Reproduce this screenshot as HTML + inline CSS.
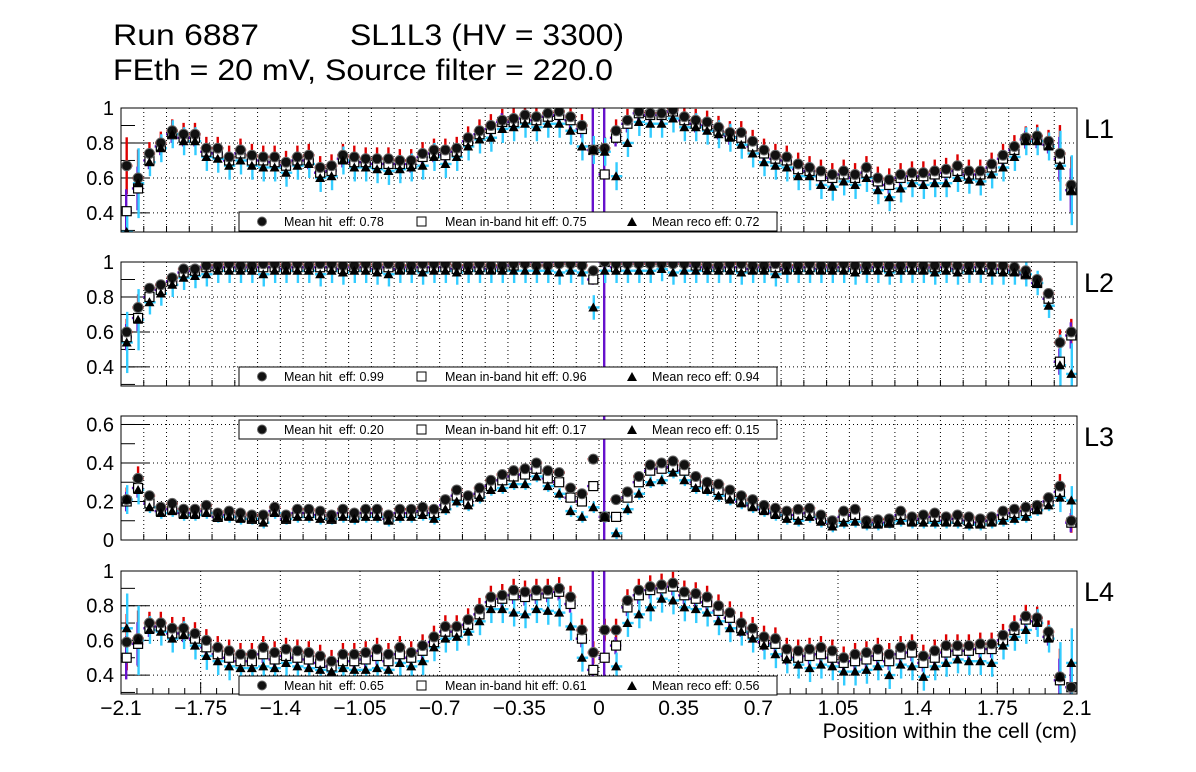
<!DOCTYPE html>
<html><head><meta charset="utf-8"><style>
html,body{margin:0;padding:0;background:#fff;width:1196px;height:772px;overflow:hidden;}
svg{display:block;font-family:"Liberation Sans",Arial,sans-serif;}
</style></head><body>
<svg id="chart" width="1196" height="772" viewBox="0 0 1196 772" xmlns="http://www.w3.org/2000/svg">
<rect x="0" y="0" width="1196" height="772" fill="#fff"/>
<text x="113" y="45" font-size="30" textLength="146" lengthAdjust="spacingAndGlyphs">Run 6887</text>
<text x="350" y="45" font-size="30" textLength="274" lengthAdjust="spacingAndGlyphs">SL1L3 (HV = 3300)</text>
<text x="113" y="80" font-size="30" textLength="500" lengthAdjust="spacingAndGlyphs">FEth = 20 mV, Source filter = 220.0</text>
<text x="1077" y="738" font-size="21" text-anchor="end">Position within the cell (cm)</text>
</svg>
<script>
const hit1=[0.67,0.60,0.74,0.80,0.87,0.85,0.85,0.77,0.77,0.72,0.76,0.73,0.72,0.72,0.69,0.72,0.73,0.66,0.67,0.73,0.72,0.71,0.71,0.71,0.70,0.70,0.74,0.76,0.76,0.77,0.83,0.87,0.90,0.93,0.94,0.96,0.95,0.97,0.98,0.95,0.90,0.76,0.77,0.87,0.93,0.98,0.97,0.97,0.99,0.95,0.93,0.92,0.89,0.86,0.86,0.81,0.76,0.73,0.72,0.68,0.66,0.64,0.62,0.64,0.62,0.66,0.60,0.59,0.62,0.63,0.63,0.64,0.65,0.67,0.64,0.64,0.68,0.73,0.78,0.83,0.84,0.81,0.74,0.56];
const inb1=[0.41,0.54,0.70,0.78,0.85,0.83,0.83,0.75,0.74,0.70,0.74,0.70,0.70,0.69,0.67,0.70,0.70,0.63,0.64,0.71,0.69,0.69,0.68,0.68,0.68,0.68,0.72,0.74,0.73,0.75,0.81,0.85,0.88,0.92,0.92,0.94,0.93,0.95,0.96,0.93,0.88,0.76,0.62,0.83,0.91,0.97,0.96,0.96,0.98,0.93,0.91,0.90,0.87,0.84,0.83,0.78,0.74,0.71,0.70,0.65,0.64,0.61,0.60,0.62,0.60,0.63,0.58,0.56,0.60,0.61,0.61,0.62,0.63,0.64,0.62,0.62,0.66,0.71,0.76,0.82,0.82,0.79,0.71,0.53];
const reco1=[0.20,0.57,0.69,0.77,0.85,0.81,0.81,0.72,0.71,0.67,0.70,0.67,0.66,0.66,0.63,0.67,0.68,0.60,0.61,0.70,0.66,0.66,0.65,0.64,0.65,0.66,0.67,0.72,0.68,0.72,0.78,0.82,0.83,0.88,0.89,0.91,0.89,0.91,0.91,0.87,0.78,0.76,0.75,0.61,0.80,0.92,0.91,0.91,0.94,0.89,0.89,0.87,0.85,0.83,0.79,0.74,0.69,0.67,0.66,0.61,0.61,0.56,0.55,0.58,0.56,0.60,0.53,0.49,0.54,0.57,0.56,0.57,0.57,0.60,0.59,0.58,0.62,0.66,0.72,0.81,0.81,0.78,0.67,0.53];
const hit2=[0.60,0.74,0.85,0.87,0.91,0.96,0.96,0.98,0.98,0.99,0.98,0.98,0.99,0.99,0.98,0.99,0.98,0.99,0.99,0.98,0.98,0.99,0.98,0.99,0.98,0.98,0.99,0.99,0.99,0.98,0.98,0.99,0.98,0.98,0.99,0.99,0.98,0.98,0.99,0.99,0.98,0.95,1.00,0.99,0.99,0.99,0.99,0.99,0.99,0.99,0.99,0.98,0.98,0.99,0.99,0.98,0.98,0.99,0.98,0.98,0.99,0.98,0.98,0.99,0.98,0.98,0.99,0.98,0.98,0.99,0.98,0.98,0.99,0.98,0.98,0.99,0.98,0.98,0.97,0.95,0.90,0.82,0.54,0.60];
const inb2=[0.57,0.68,0.80,0.84,0.89,0.94,0.95,0.97,0.97,0.97,0.97,0.97,0.97,0.97,0.96,0.97,0.97,0.97,0.97,0.96,0.97,0.97,0.96,0.97,0.96,0.97,0.97,0.97,0.97,0.96,0.97,0.97,0.96,0.97,0.98,1.0,1.0,1.0,1.0,1.0,1.0,0.90,1.00,0.97,1.0,1.0,1.0,1.0,1.0,1.0,0.98,0.97,0.97,0.97,0.97,0.96,0.97,0.97,0.96,0.97,0.97,0.96,0.97,0.97,0.96,0.97,0.97,0.97,0.97,0.97,0.96,0.97,0.97,0.96,0.97,0.97,0.96,0.96,0.95,0.93,0.88,0.79,0.43,0.58];
const reco2=[0.54,0.67,0.77,0.82,0.87,0.91,0.92,0.93,0.95,0.95,0.95,0.95,0.93,0.95,0.95,0.95,0.95,0.93,0.95,0.94,0.95,0.95,0.94,0.93,0.95,0.95,0.94,0.95,0.95,0.94,0.95,0.95,0.95,0.95,0.95,0.95,0.95,0.95,0.94,0.95,0.94,0.74,0.95,0.95,0.95,0.95,0.95,0.96,0.94,0.95,0.95,0.95,0.95,0.95,0.94,0.95,0.95,0.93,0.95,0.95,0.95,0.95,0.95,0.95,0.94,0.95,0.95,0.94,0.95,0.95,0.95,0.94,0.95,0.94,0.95,0.95,0.94,0.94,0.94,0.93,0.88,0.75,0.41,0.36];
const hit3=[0.21,0.32,0.23,0.17,0.19,0.16,0.16,0.18,0.14,0.15,0.14,0.13,0.13,0.17,0.13,0.16,0.16,0.15,0.13,0.16,0.14,0.16,0.16,0.13,0.16,0.16,0.17,0.16,0.21,0.26,0.23,0.27,0.31,0.34,0.36,0.37,0.40,0.36,0.35,0.27,0.24,0.42,0.12,0.21,0.25,0.33,0.39,0.40,0.41,0.39,0.33,0.30,0.29,0.26,0.23,0.21,0.18,0.165,0.15,0.16,0.165,0.13,0.10,0.15,0.16,0.10,0.105,0.11,0.15,0.12,0.13,0.14,0.12,0.13,0.12,0.11,0.12,0.15,0.16,0.17,0.18,0.22,0.28,0.10];
const inb3=[0.20,0.27,0.19,0.15,0.16,0.14,0.14,0.15,0.12,0.13,0.12,0.11,0.11,0.15,0.11,0.14,0.14,0.13,0.11,0.14,0.12,0.14,0.14,0.11,0.14,0.14,0.15,0.14,0.18,0.23,0.20,0.24,0.28,0.31,0.33,0.34,0.37,0.32,0.30,0.22,0.20,0.28,0.12,0.12,0.22,0.30,0.36,0.37,0.38,0.36,0.30,0.27,0.26,0.23,0.20,0.18,0.16,0.14,0.13,0.13,0.14,0.11,0.09,0.12,0.13,0.09,0.09,0.09,0.13,0.10,0.11,0.12,0.10,0.11,0.10,0.09,0.10,0.13,0.14,0.15,0.16,0.20,0.25,0.09];
const reco3=[0.21,0.26,0.17,0.14,0.15,0.13,0.13,0.14,0.12,0.12,0.11,0.11,0.09,0.14,0.11,0.12,0.12,0.11,0.11,0.12,0.11,0.12,0.12,0.10,0.12,0.12,0.13,0.11,0.16,0.20,0.18,0.22,0.26,0.27,0.29,0.29,0.33,0.28,0.24,0.15,0.12,0.17,0.12,0.035,0.16,0.24,0.30,0.31,0.35,0.31,0.27,0.26,0.23,0.21,0.19,0.17,0.15,0.13,0.11,0.10,0.12,0.095,0.07,0.09,0.095,0.08,0.08,0.09,0.10,0.09,0.09,0.09,0.09,0.09,0.08,0.08,0.09,0.10,0.11,0.12,0.155,0.18,0.22,0.205];
const hit4=[0.59,0.61,0.70,0.70,0.67,0.67,0.64,0.60,0.56,0.54,0.52,0.52,0.56,0.53,0.55,0.54,0.53,0.51,0.48,0.52,0.52,0.53,0.55,0.52,0.56,0.53,0.57,0.62,0.68,0.68,0.72,0.78,0.85,0.86,0.89,0.88,0.89,0.89,0.90,0.85,0.66,0.53,0.66,0.66,0.83,0.89,0.91,0.92,0.93,0.88,0.87,0.85,0.80,0.76,0.70,0.67,0.62,0.61,0.55,0.54,0.55,0.56,0.54,0.50,0.52,0.53,0.55,0.52,0.56,0.57,0.51,0.54,0.57,0.57,0.57,0.58,0.58,0.63,0.68,0.74,0.73,0.65,0.39,0.33];
const inb4=[0.50,0.58,0.67,0.68,0.64,0.64,0.61,0.56,0.52,0.50,0.48,0.48,0.52,0.49,0.51,0.50,0.49,0.47,0.45,0.48,0.48,0.49,0.51,0.48,0.52,0.50,0.54,0.59,0.65,0.65,0.69,0.75,0.82,0.84,0.86,0.85,0.86,0.87,0.88,0.81,0.61,0.43,0.50,0.57,0.79,0.86,0.89,0.90,0.91,0.86,0.84,0.82,0.77,0.73,0.67,0.64,0.59,0.58,0.51,0.50,0.51,0.52,0.50,0.47,0.48,0.49,0.51,0.48,0.52,0.53,0.47,0.50,0.53,0.54,0.54,0.55,0.55,0.60,0.66,0.72,0.71,0.62,0.37,0.33];
const reco4=[0.67,0.60,0.66,0.65,0.61,0.63,0.57,0.51,0.48,0.45,0.44,0.44,0.45,0.44,0.47,0.45,0.44,0.43,0.42,0.44,0.43,0.43,0.44,0.43,0.47,0.45,0.48,0.56,0.61,0.62,0.65,0.71,0.78,0.78,0.76,0.75,0.78,0.77,0.76,0.68,0.50,0.25,0.25,0.45,0.70,0.75,0.79,0.84,0.83,0.79,0.78,0.76,0.71,0.67,0.65,0.61,0.57,0.52,0.49,0.46,0.44,0.46,0.45,0.42,0.42,0.43,0.45,0.40,0.46,0.45,0.39,0.45,0.47,0.49,0.48,0.48,0.47,0.57,0.62,0.66,0.70,0.61,0.39,0.47];
const bigInbErrBins=[[41,42],[42],[42],[41,42]];
const meanHit=["0.78","0.99","0.20","0.65"];
const meanInb=["0.75","0.96","0.17","0.61"];
const meanReco=["0.72","0.94","0.15","0.56"];
const layerNames=["L1","L2","L3","L4"];
const xTickLabels=["\u22122.1","\u22121.75","\u22121.4","\u22121.05","\u22120.7","\u22120.35","0","0.35","0.7","1.05","1.4","1.75","2.1"];
const xTickValues=[-2.1,-1.75,-1.4,-1.05,-0.7,-0.35,0,0.35,0.7,1.05,1.4,1.75,2.1];

const NS="http://www.w3.org/2000/svg";
const svg=document.getElementById('chart');
const XL=121,XR=1077,XMIN=-2.1,XMAX=2.1;
function xs(v){return XL+(v-XMIN)/(XMAX-XMIN)*(XR-XL);}
function mk(tag,parent,attrs){const e=document.createElementNS(NS,tag);for(const k in attrs)e.setAttribute(k,attrs[k]);parent.appendChild(e);return e;}

const panels=[
 {top:108,h:124,ymin:0.291,ymax:1.0,ticks:[0.4,0.6,0.8,1.0],tl:["0.4","0.6","0.8","1"],hit:hit1,inb:inb1,reco:reco1,err:[0.065,0.05,0.08],leg:212,fine:true},
 {top:262,h:124,ymin:0.291,ymax:1.0,ticks:[0.4,0.6,0.8,1.0],tl:["0.4","0.6","0.8","1"],hit:hit2,inb:inb2,reco:reco2,err:[0.03,0.03,0.07],leg:367,fine:true},
 {top:416,h:124,ymin:0,ymax:0.644,ticks:[0,0.2,0.4,0.6],tl:["0","0.2","0.4","0.6"],hit:hit3,inb:inb3,reco:reco3,err:[0.025,0.02,0.03],leg:420,fine:true},
 {top:571,h:123,ymin:0.291,ymax:1.0,ticks:[0.4,0.6,0.8,1.0],tl:["0.4","0.6","0.8","1"],hit:hit4,inb:inb4,reco:reco4,err:[0.065,0.05,0.08],leg:676,fine:false}
];
const defs=mk('defs',svg,{});
panels.forEach((p,pi)=>{
  const ys=v=>p.top+p.h-(v-p.ymin)/(p.ymax-p.ymin)*p.h;
  const yc=v=>Math.max(p.top,Math.min(p.top+p.h,ys(v)));
  const g=mk('g',svg,{});
  
  
  const cp=mk('clipPath',defs,{id:'cp'+pi});
  mk('rect',cp,{x:XL,y:p.top,width:XR-XL,height:p.h});
  const grid=mk('g',g,{stroke:'#000','stroke-width':1,'stroke-dasharray':'1,3'});
  
  
  if(p.fine){for(let k=1;k<42;k++){const x=xs(XMIN+k*0.1);mk('line',grid,{x1:x,x2:x,y1:p.top,y2:p.top+p.h});}}
  else{xTickValues.forEach(v=>{const x=xs(v);mk('line',grid,{x1:x,x2:x,y1:p.top,y2:p.top+p.h});});}
  p.ticks.forEach(t=>{const y=ys(t);if(y>p.top+1&&y<p.top+p.h-1)mk('line',grid,{x1:XL,x2:XR,y1:y,y2:y});});
  p.ticks.forEach((t,k)=>{const y=ys(t);
    const tk=mk('line',g,{x1:XL,x2:XL+28,y1:y,y2:y,stroke:'#000','stroke-width':1});
    
    
    const tx=mk('text',g,{x:114,y:y+7,'font-size':20,'text-anchor':'end'});tx.textContent=p.tl[k];
    
    
  });
  for(let v=Math.ceil(p.ymin*10)/10;v<=p.ymax+1e-9;v+=0.1){const y=ys(v);mk('line',g,{x1:XL,x2:XL+14,y1:y,y2:y,stroke:'#000','stroke-width':1});}
  if(p.fine){for(let k=1;k<42;k++){const x=xs(XMIN+k*0.1);mk('line',g,{x1:x,x2:x,y1:p.top+p.h,y2:p.top+p.h-6,stroke:'#000'});}}
  else{for(let k=1;k<60;k++){const x=xs(XMIN+k*0.07);mk('line',g,{x1:x,x2:x,y1:p.top+p.h,y2:p.top+p.h-(k%5==0?12:6),stroke:'#000'});}
    xTickValues.forEach((v,k)=>{const tx=mk('text',svg,{x:xs(v),y:715,'font-size':21,'text-anchor':'middle'});tx.textContent=xTickLabels[k];
      
      });}
  const dg=mk('g',g,{'clip-path':'url(#cp'+pi+')'});
  
  
  const n=p.hit.length,bw=(XMAX-XMIN)/n;
  const series=[[p.hit,'#dd0000',0],[p.inb,'#6611cc',-0.5],[p.reco,'#33ccff',0.5]];
  const pxw=(XR-XL)/n;
  series.forEach(([arr,col,off],si)=>{arr.forEach((v,i)=>{
    const x=xs(XMIN+(i+0.5)*bw)+off;
    let e=(i<2||i>=n-2)?p.err[si]*2.5:p.err[si];
    if(si==1&&bigInbErrBins[pi].includes(i))e=1.0;
    const ym=yc(v);
    const eb=mk('line',dg,{x1:x,x2:x,y1:yc(v+e),y2:yc(v-e),stroke:col,'stroke-width':2.4});
    
    
    mk('line',dg,{x1:x-pxw/2,x2:x+pxw/2,y1:ym,y2:ym,stroke:col,'stroke-width':2.4});
  });});
  p.inb.forEach((v,i)=>{const x=xs(XMIN+(i+0.5)*bw),y=ys(v);
    const m=mk('rect',dg,{x:x-4.5,y:y-4.5,width:9,height:9,fill:'#fff',stroke:'#000','stroke-width':1.2});
    
    });
  p.hit.forEach((v,i)=>{const x=xs(XMIN+(i+0.5)*bw),y=ys(v);
    const m=mk('circle',dg,{cx:x,cy:y,r:5,fill:'#111',stroke:'#666','stroke-width':1});
    
    });
  p.reco.forEach((v,i)=>{const x=xs(XMIN+(i+0.5)*bw),y=yc(v);
    const m=mk('polygon',dg,{points:`${x-5},${y+4} ${x+5},${y+4} ${x},${y-5}`,fill:'#000'});
    
    });
  const fr=mk('rect',g,{x:XL,y:p.top,width:XR-XL,height:p.h,fill:'none',stroke:'#000','stroke-width':1});
  
  
  const lg=mk('g',g,{});
  
  
  const ly=p.leg;
  mk('rect',lg,{x:239,y:ly,width:538,height:19,fill:'#fff',stroke:'#000','stroke-width':1});
  mk('circle',lg,{cx:262,cy:ly+9.5,r:4.5,fill:'#111',stroke:'#666'});
  const t1=mk('text',lg,{x:284,y:ly+14,'font-size':12.5});t1.textContent='Mean hit\u00a0 eff: '+meanHit[pi];
  
  
  mk('rect',lg,{x:417,y:ly+5,width:9,height:9,fill:'#fff',stroke:'#000'});
  const t2=mk('text',lg,{x:445,y:ly+14,'font-size':12.5});t2.textContent='Mean in-band hit eff: '+meanInb[pi];
  
  
  mk('polygon',lg,{points:`${627},${ly+14} ${637},${ly+14} ${632},${ly+5}`,fill:'#000'});
  const t3=mk('text',lg,{x:652,y:ly+14,'font-size':12.5});t3.textContent='Mean reco eff: '+meanReco[pi];
  
  
  const ll=mk('text',svg,{x:1084,y:p.top+30,'font-size':27});ll.textContent=layerNames[pi];
  
  
});
</script>
</body></html>
